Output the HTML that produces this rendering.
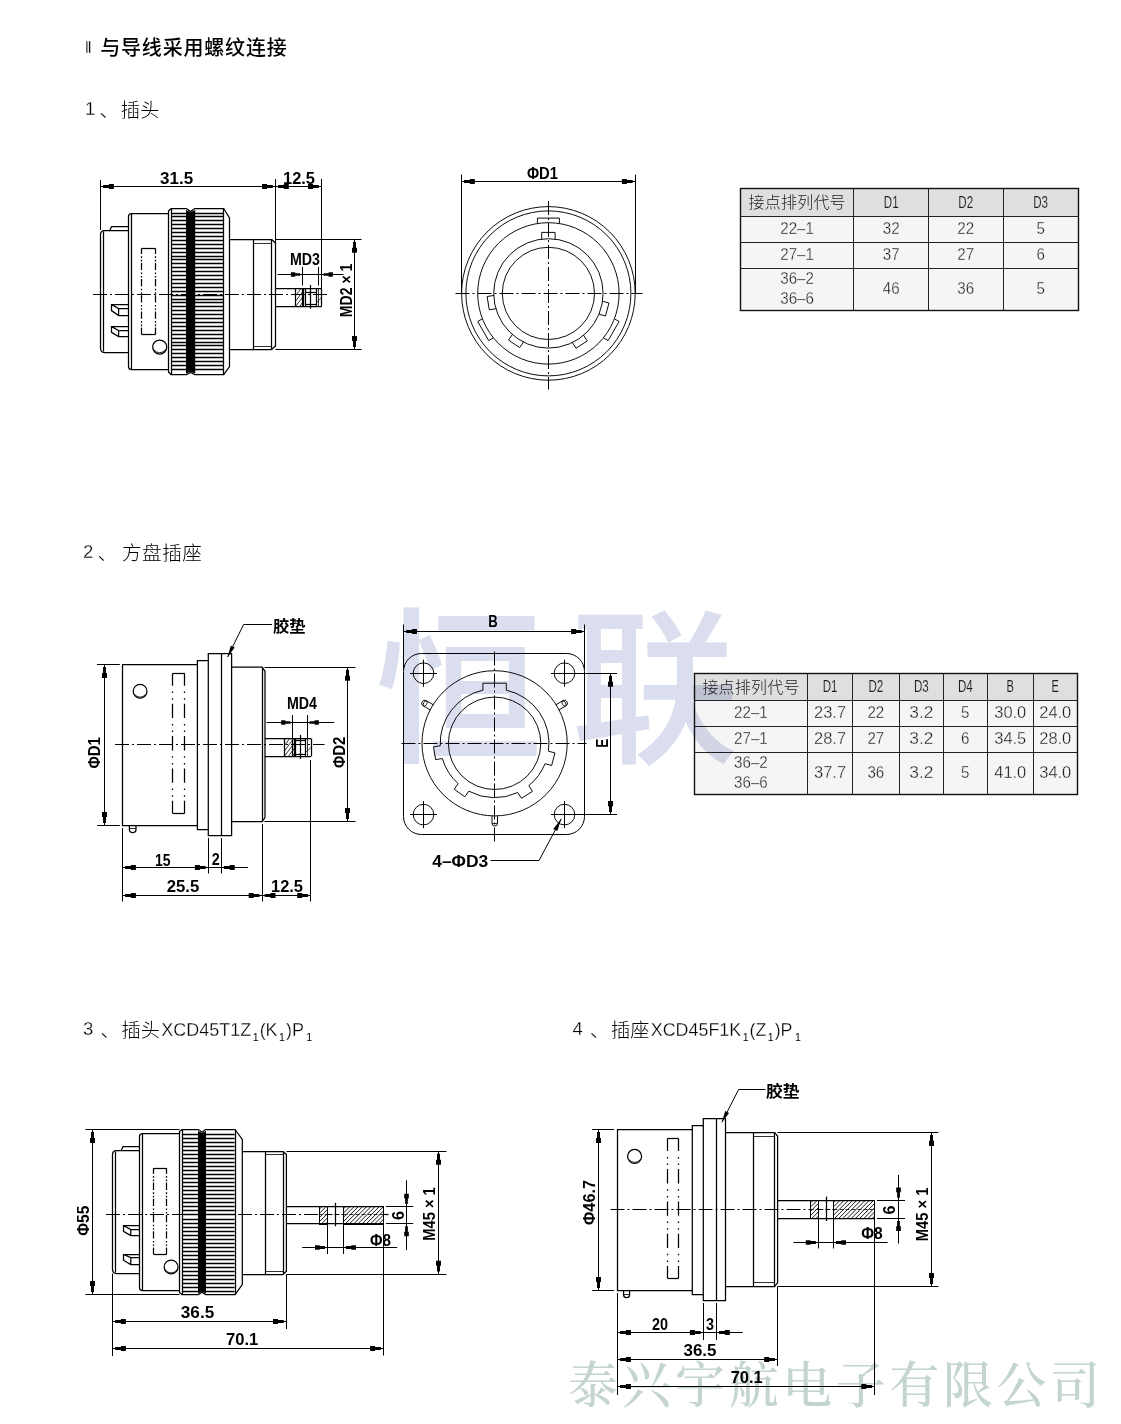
<!DOCTYPE html>
<html lang="zh"><head><meta charset="utf-8"><title>XCD</title>
<style>
html,body{margin:0;padding:0;background:#fff}
body{width:1121px;height:1424px;overflow:hidden;position:relative}
svg{position:absolute;left:0;top:0;display:block}
svg text.t{fill:#1c1c1c}
svg text.th{stroke:#dfdfdf;stroke-width:.15px}
svg text.tb{stroke:#f5f5f5;stroke-width:.3px}
svg text.thin{stroke:#fff;stroke-width:.35px}
svg text.thin2{stroke:#fff;stroke-width:.3px}
svg text{font-family:"Liberation Sans","Noto Sans CJK SC",sans-serif;fill:#000;stroke:none}
</style></head><body>
<svg width="1121" height="1424" viewBox="0 0 1121 1424" fill="none" stroke="#000" stroke-width="1">
<g>
<rect x="740.3" y="216.2" width="338" height="94.3" fill="#f5f5f5" stroke="none"/>
<rect x="740.3" y="188.4" width="338" height="27.8" fill="#dfdfdf" stroke="none"/>
<path d="M853.5 188.4L853.5 310.5" stroke-width="1" stroke="#222"/>
<path d="M928.5 188.4L928.5 310.5" stroke-width="1" stroke="#222"/>
<path d="M1003.5 188.4L1003.5 310.5" stroke-width="1" stroke="#222"/>
<path d="M740.3 216.5L1078.3 216.5" stroke-width="1" stroke="#222"/>
<path d="M740.3 242.5L1078.3 242.5" stroke-width="1" stroke="#222"/>
<path d="M740.3 268.5L1078.3 268.5" stroke-width="1" stroke="#222"/>
<rect x="740.5" y="188.5" width="338" height="122" stroke="#111" stroke-width="1.4"/>
<g font-weight="300" style="fill:#262626">
<text class="t" x="797.1" y="208.1" font-size="16" text-anchor="middle" textLength="97" lengthAdjust="spacing" font-weight="300">接点排列代号</text>
<text class="t th" x="891.2" y="207.5" font-size="16" text-anchor="middle" textLength="14.8" lengthAdjust="spacingAndGlyphs" font-weight="400">D1</text>
<text class="t th" x="965.75" y="207.5" font-size="16" text-anchor="middle" textLength="14.8" lengthAdjust="spacingAndGlyphs" font-weight="400">D2</text>
<text class="t th" x="1040.65" y="207.5" font-size="16" text-anchor="middle" textLength="14.8" lengthAdjust="spacingAndGlyphs" font-weight="400">D3</text>
<text class="t tb" x="797.1" y="234.1" font-size="16" text-anchor="middle" textLength="33.6" lengthAdjust="spacingAndGlyphs" font-weight="400">22–1</text>
<text class="t tb" x="891.2" y="234.1" font-size="16" text-anchor="middle" textLength="16.8" lengthAdjust="spacingAndGlyphs" font-weight="400">32</text>
<text class="t tb" x="965.75" y="234.1" font-size="16" text-anchor="middle" textLength="16.8" lengthAdjust="spacingAndGlyphs" font-weight="400">22</text>
<text class="t tb" x="1040.65" y="234.1" font-size="16" text-anchor="middle" textLength="8.4" lengthAdjust="spacingAndGlyphs" font-weight="400">5</text>
<text class="t tb" x="797.1" y="260.15" font-size="16" text-anchor="middle" textLength="33.6" lengthAdjust="spacingAndGlyphs" font-weight="400">27–1</text>
<text class="t tb" x="891.2" y="260.15" font-size="16" text-anchor="middle" textLength="16.8" lengthAdjust="spacingAndGlyphs" font-weight="400">37</text>
<text class="t tb" x="965.75" y="260.15" font-size="16" text-anchor="middle" textLength="16.8" lengthAdjust="spacingAndGlyphs" font-weight="400">27</text>
<text class="t tb" x="1040.65" y="260.15" font-size="16" text-anchor="middle" textLength="8.4" lengthAdjust="spacingAndGlyphs" font-weight="400">6</text>
<text class="t tb" x="797.1" y="284.2" font-size="16" text-anchor="middle" textLength="33.6" lengthAdjust="spacingAndGlyphs" font-weight="400">36–2</text>
<text class="t tb" x="797.1" y="304.2" font-size="16" text-anchor="middle" textLength="33.6" lengthAdjust="spacingAndGlyphs" font-weight="400">36–6</text>
<text class="t tb" x="891.2" y="294.2" font-size="16" text-anchor="middle" textLength="16.8" lengthAdjust="spacingAndGlyphs" font-weight="400">46</text>
<text class="t tb" x="965.75" y="294.2" font-size="16" text-anchor="middle" textLength="16.8" lengthAdjust="spacingAndGlyphs" font-weight="400">36</text>
<text class="t tb" x="1040.65" y="294.2" font-size="16" text-anchor="middle" textLength="8.4" lengthAdjust="spacingAndGlyphs" font-weight="400">5</text>
</g></g>
<g>
<rect x="694.2" y="700.2" width="383" height="94.2" fill="#f5f5f5" stroke="none"/>
<rect x="694.2" y="673.6" width="383" height="26.6" fill="#dfdfdf" stroke="none"/>
<path d="M807.5 673.6L807.5 794.4" stroke-width="1" stroke="#222"/>
<path d="M852.5 673.6L852.5 794.4" stroke-width="1" stroke="#222"/>
<path d="M899.5 673.6L899.5 794.4" stroke-width="1" stroke="#222"/>
<path d="M943.5 673.6L943.5 794.4" stroke-width="1" stroke="#222"/>
<path d="M987.5 673.6L987.5 794.4" stroke-width="1" stroke="#222"/>
<path d="M1033.5 673.6L1033.5 794.4" stroke-width="1" stroke="#222"/>
<path d="M694.2 700.5L1077.2 700.5" stroke-width="1" stroke="#222"/>
<path d="M694.2 726.5L1077.2 726.5" stroke-width="1" stroke="#222"/>
<path d="M694.2 752.5L1077.2 752.5" stroke-width="1" stroke="#222"/>
<rect x="694.5" y="673.5" width="383" height="121" stroke="#111" stroke-width="1.4"/>
<g font-weight="300" style="fill:#262626">
<text class="t" x="750.9" y="692.7" font-size="16" text-anchor="middle" textLength="97" lengthAdjust="spacing" font-weight="300">接点排列代号</text>
<text class="t th" x="830.05" y="692.1" font-size="16" text-anchor="middle" textLength="14.8" lengthAdjust="spacingAndGlyphs" font-weight="400">D1</text>
<text class="t th" x="875.85" y="692.1" font-size="16" text-anchor="middle" textLength="14.8" lengthAdjust="spacingAndGlyphs" font-weight="400">D2</text>
<text class="t th" x="921.3" y="692.1" font-size="16" text-anchor="middle" textLength="14.8" lengthAdjust="spacingAndGlyphs" font-weight="400">D3</text>
<text class="t th" x="965.3" y="692.1" font-size="16" text-anchor="middle" textLength="14.8" lengthAdjust="spacingAndGlyphs" font-weight="400">D4</text>
<text class="t th" x="1010.25" y="692.1" font-size="16" text-anchor="middle" textLength="7.4" lengthAdjust="spacingAndGlyphs" font-weight="400">B</text>
<text class="t th" x="1055.25" y="692.1" font-size="16" text-anchor="middle" textLength="7.4" lengthAdjust="spacingAndGlyphs" font-weight="400">E</text>
<text class="t tb" x="750.9" y="718.05" font-size="16" text-anchor="middle" textLength="33.6" lengthAdjust="spacingAndGlyphs" font-weight="400">22–1</text>
<text class="t tb" x="830.05" y="718.05" font-size="16" text-anchor="middle" textLength="32" lengthAdjust="spacingAndGlyphs" font-weight="400">23.7</text>
<text class="t tb" x="875.85" y="718.05" font-size="16" text-anchor="middle" textLength="16.8" lengthAdjust="spacingAndGlyphs" font-weight="400">22</text>
<text class="t tb" x="921.3" y="718.05" font-size="16" text-anchor="middle" textLength="24" lengthAdjust="spacingAndGlyphs" font-weight="400">3.2</text>
<text class="t tb" x="965.3" y="718.05" font-size="16" text-anchor="middle" textLength="8.4" lengthAdjust="spacingAndGlyphs" font-weight="400">5</text>
<text class="t tb" x="1010.25" y="718.05" font-size="16" text-anchor="middle" textLength="32" lengthAdjust="spacingAndGlyphs" font-weight="400">30.0</text>
<text class="t tb" x="1055.25" y="718.05" font-size="16" text-anchor="middle" textLength="32" lengthAdjust="spacingAndGlyphs" font-weight="400">24.0</text>
<text class="t tb" x="750.9" y="743.95" font-size="16" text-anchor="middle" textLength="33.6" lengthAdjust="spacingAndGlyphs" font-weight="400">27–1</text>
<text class="t tb" x="830.05" y="743.95" font-size="16" text-anchor="middle" textLength="32" lengthAdjust="spacingAndGlyphs" font-weight="400">28.7</text>
<text class="t tb" x="875.85" y="743.95" font-size="16" text-anchor="middle" textLength="16.8" lengthAdjust="spacingAndGlyphs" font-weight="400">27</text>
<text class="t tb" x="921.3" y="743.95" font-size="16" text-anchor="middle" textLength="24" lengthAdjust="spacingAndGlyphs" font-weight="400">3.2</text>
<text class="t tb" x="965.3" y="743.95" font-size="16" text-anchor="middle" textLength="8.4" lengthAdjust="spacingAndGlyphs" font-weight="400">6</text>
<text class="t tb" x="1010.25" y="743.95" font-size="16" text-anchor="middle" textLength="32" lengthAdjust="spacingAndGlyphs" font-weight="400">34.5</text>
<text class="t tb" x="1055.25" y="743.95" font-size="16" text-anchor="middle" textLength="32" lengthAdjust="spacingAndGlyphs" font-weight="400">28.0</text>
<text class="t tb" x="750.9" y="768" font-size="16" text-anchor="middle" textLength="33.6" lengthAdjust="spacingAndGlyphs" font-weight="400">36–2</text>
<text class="t tb" x="750.9" y="788" font-size="16" text-anchor="middle" textLength="33.6" lengthAdjust="spacingAndGlyphs" font-weight="400">36–6</text>
<text class="t tb" x="830.05" y="778" font-size="16" text-anchor="middle" textLength="32" lengthAdjust="spacingAndGlyphs" font-weight="400">37.7</text>
<text class="t tb" x="875.85" y="778" font-size="16" text-anchor="middle" textLength="16.8" lengthAdjust="spacingAndGlyphs" font-weight="400">36</text>
<text class="t tb" x="921.3" y="778" font-size="16" text-anchor="middle" textLength="24" lengthAdjust="spacingAndGlyphs" font-weight="400">3.2</text>
<text class="t tb" x="965.3" y="778" font-size="16" text-anchor="middle" textLength="8.4" lengthAdjust="spacingAndGlyphs" font-weight="400">5</text>
<text class="t tb" x="1010.25" y="778" font-size="16" text-anchor="middle" textLength="32" lengthAdjust="spacingAndGlyphs" font-weight="400">41.0</text>
<text class="t tb" x="1055.25" y="778" font-size="16" text-anchor="middle" textLength="32" lengthAdjust="spacingAndGlyphs" font-weight="400">34.0</text>
</g></g>
<g fill="#000">
<text x="84.6" y="53" font-size="17.2" font-weight="300" textLength="7.4" lengthAdjust="spacing" lengthAdjust="spacingAndGlyphs" class="thin">II</text>
<text x="100.2" y="54.6" font-size="20" font-weight="500" textLength="186.5" lengthAdjust="spacing">与导线采用螺纹连接</text>
<text x="85" y="115.4" font-size="18.5" font-weight="300" class="thin2">1</text>
<text x="99.5" y="116.5" font-size="19" font-weight="300">、</text>
<text x="120.8" y="116.5" font-size="19.2" font-weight="300" textLength="38.6" lengthAdjust="spacing">插头</text>
<text x="83" y="558.4" font-size="18.5" font-weight="300" class="thin2">2</text>
<text x="97.8" y="559.5" font-size="19" font-weight="300">、</text>
<text x="122" y="559.5" font-size="19.6" font-weight="300" textLength="79.8" lengthAdjust="spacing">方盘插座</text>
<text x="83" y="1035.4" font-size="18.5" font-weight="300" class="thin2">3</text>
<text x="100.5" y="1036.5" font-size="19" font-weight="300">、</text>
<text x="121.5" y="1036.8" font-size="19.2" font-weight="300" textLength="38.5" lengthAdjust="spacing">插头</text>
<text class="thin2" x="161.3" y="1035.6" font-size="18.6" font-weight="400" textLength="151" lengthAdjust="spacingAndGlyphs">XCD45T1Z<tspan font-size="11" dy="5.2" dx="1.5" style="stroke:none">1</tspan><tspan dy="-5.2" dx="1">(K</tspan><tspan font-size="11" dy="5.2" dx="1.5" style="stroke:none">1</tspan><tspan dy="-5.2" dx="1">)P</tspan><tspan font-size="11" dy="5.2" dx="2.5" style="stroke:none">1</tspan></text>
<text x="572.5" y="1035.4" font-size="18.5" font-weight="300" class="thin2">4</text>
<text x="590" y="1036.5" font-size="19" font-weight="300">、</text>
<text x="611" y="1036.8" font-size="19.2" font-weight="300" textLength="38.5" lengthAdjust="spacing">插座</text>
<text class="thin2" x="650.8" y="1035.6" font-size="18.6" font-weight="400" textLength="150" lengthAdjust="spacingAndGlyphs">XCD45F1K<tspan font-size="11" dy="5.2" dx="1.5" style="stroke:none">1</tspan><tspan dy="-5.2" dx="1">(Z</tspan><tspan font-size="11" dy="5.2" dx="1.5" style="stroke:none">1</tspan><tspan dy="-5.2" dx="1">)P</tspan><tspan font-size="11" dy="5.2" dx="2.5" style="stroke:none">1</tspan></text>
</g>
<text x="375" y="750" font-size="168" font-weight="500" style="mix-blend-mode:multiply;fill:#dbdeee;font-family:'Liberation Sans','Noto Sans CJK SC',sans-serif" textLength="364" lengthAdjust="spacing">恒联</text>
<text x="568" y="1403" font-size="50" font-weight="500" style="mix-blend-mode:multiply;fill:#c4d4d1;font-family:'Liberation Serif','Noto Serif CJK SC',serif" textLength="532" lengthAdjust="spacing">泰兴宇航电子有限公司</text>
<g id="d1">
<path d="M128.5 230.5H104.5Q100.5 230.5 100.5 234.5V348Q100.5 352.5 104.5 352.5H128.5" stroke-width="1.25" fill="none"/>
<path d="M103.5 231.5L103.5 351.5" stroke-width="1.25"/>
<path d="M109.8 230.5L111.6 226.5H128.5" stroke-width="1.25" fill="none"/>
<path d="M169 213.5H131.5Q128.5 213.5 128.5 216.5V366.5Q128.5 369.5 131.5 369.5H169" stroke-width="1.25" fill="none"/>
<path d="M131.5 214L131.5 369" stroke-width="1.25"/>
<path d="M168.5 211L171 208.5H186.4L190.5 211.6L194.8 208.5H223.7L229.5 218V366.5L223.7 374.5H194.8L190.6 372.4L186.4 374.5H171L168.5 372Z" stroke-width="1.25" fill="none"/>
<path d="M171.5 208.5L171.5 374.5" stroke-width="1.25"/>
<path d="M223.5 208.5L223.5 374.5" stroke-width="1.25"/>
<polygon points="186,210 190.5,212.2 195.2,210 195.2,373.5 190.6,371.8 186,373.5" fill="#000" stroke="none"/>
<g stroke-width="1.3">
<path d="M172 213.5H186M195 213.5H223.4"/>
<path d="M172 216.5H186M195 216.5H223.4"/>
<path d="M172 220.5H186M195 220.5H223.4"/>
<path d="M172 224.5H186M195 224.5H223.4"/>
<path d="M172 228.5H186M195 228.5H223.4"/>
<path d="M172 232.5H186M195 232.5H223.4"/>
<path d="M172 236.5H186M195 236.5H223.4"/>
<path d="M172 240.5H186M195 240.5H223.4"/>
<path d="M172 244.5H186M195 244.5H223.4"/>
<path d="M172 248.5H186M195 248.5H223.4"/>
<path d="M172 252.5H186M195 252.5H223.4"/>
<path d="M172 256.5H186M195 256.5H223.4"/>
<path d="M172 259.5H186M195 259.5H223.4"/>
<path d="M172 263.5H186M195 263.5H223.4"/>
<path d="M172 267.5H186M195 267.5H223.4"/>
<path d="M172 271.5H186M195 271.5H223.4"/>
<path d="M172 275.5H186M195 275.5H223.4"/>
<path d="M172 279.5H186M195 279.5H223.4"/>
<path d="M172 283.5H186M195 283.5H223.4"/>
<path d="M172 287.5H186M195 287.5H223.4"/>
<path d="M172 291.5H186M195 291.5H223.4"/>
<path d="M172 295.5H186M195 295.5H223.4"/>
<path d="M172 299.5H186M195 299.5H223.4"/>
<path d="M172 302.5H186M195 302.5H223.4"/>
<path d="M172 306.5H186M195 306.5H223.4"/>
<path d="M172 310.5H186M195 310.5H223.4"/>
<path d="M172 314.5H186M195 314.5H223.4"/>
<path d="M172 318.5H186M195 318.5H223.4"/>
<path d="M172 322.5H186M195 322.5H223.4"/>
<path d="M172 326.5H186M195 326.5H223.4"/>
<path d="M172 330.5H186M195 330.5H223.4"/>
<path d="M172 334.5H186M195 334.5H223.4"/>
<path d="M172 338.5H186M195 338.5H223.4"/>
<path d="M172 342.5H186M195 342.5H223.4"/>
<path d="M172 345.5H186M195 345.5H223.4"/>
<path d="M172 349.5H186M195 349.5H223.4"/>
<path d="M172 353.5H186M195 353.5H223.4"/>
<path d="M172 357.5H186M195 357.5H223.4"/>
<path d="M172 361.5H186M195 361.5H223.4"/>
<path d="M172 365.5H186M195 365.5H223.4"/>
<path d="M172 369.5H186M195 369.5H223.4"/>
</g>
<path d="M229.5 239.5L271.6 239.5" stroke-width="1.25"/>
<path d="M229.5 349.5L271.6 349.5" stroke-width="1.25"/>
<path d="M253.5 239.3L253.5 349.5" stroke-width="1.25"/>
<path d="M271.5 239.3L271.5 349.5" stroke-width="1.25"/>
<path d="M271.6 239.5L275.5 243V346L271.6 349.5" stroke-width="1.25" fill="none"/>
<path d="M253.6 243.5L271.6 243.5" stroke-width="0.8"/>
<path d="M253.6 346.5L271.6 346.5" stroke-width="0.8"/>
<path d="M93 294.5L327 294.5" stroke-width="1" stroke-dasharray="14 3 2 3"/>
<path d="M275.5 288.5L321.8 288.5" stroke-width="1.25"/>
<path d="M275.5 306.5L321.8 306.5" stroke-width="1.25"/>
<path d="M321.5 288.2L321.5 306.2" stroke-width="1.25"/>
<path d="M295.5 288.2L295.5 306.2" stroke-width="1.25"/>
<path d="M302.5 288.2L302.5 306.2" stroke-width="1.25"/>
<path d="M303.5 288.2L303.5 306.2" stroke-width="1.25"/>
<path d="M305.5 288.2L305.5 306.2" stroke-width="1.25"/>
<g stroke-width="0.8">
<path d="M295.8 295.53L301.3 288.2" stroke-width="0.8"/>
<path d="M295.8 300.87L303.7 290.33" stroke-width="0.8"/>
<path d="M295.8 306.2L303.7 295.67" stroke-width="0.8"/>
<path d="M299.8 306.2L303.7 301" stroke-width="0.8"/>
</g>
<path d="M305.3 292.5L316.9 292.5" stroke-width="1.25"/>
<path d="M305.3 304.5L316.9 304.5" stroke-width="1.25"/>
<path d="M316.5 288.2L316.5 306.2" stroke-width="1.25"/>
<path d="M318.5 288.2L318.5 306.2" stroke-width="0.8"/>
<path d="M316.9 302.2L321.8 297.2" stroke-width="0.7"/>
<path d="M310.5 285L310.5 308.8" stroke-width="1.25"/>
<path d="M141.4 248.5L155.6 248.5" stroke-width="1.25"/>
<path d="M141.4 334.5L155.6 334.5" stroke-width="1.25"/>
<path d="M141.5 248.5L141.5 334.3" stroke-width="1.25" stroke-dasharray="7.3 2.4 1.6 1.9 1.6 1.4" stroke-dashoffset="1.9"/>
<path d="M155.5 248.5L155.5 334.3" stroke-width="1.25" stroke-dasharray="7.3 2.4 1.6 1.9 1.6 1.4" stroke-dashoffset="1.9"/>
<path d="M128.5 304.5 H111.5 V310.6 L118.6 315.5 H128.5 M111.5 304.5 L118.6 308.5 H128.5 M118.6 308.5 V315.5" stroke-width="1.25" fill="none"/>
<path d="M128.5 326.5 H111.5 V332.4 L118.6 336.5 H128.5 M111.5 326.5 L118.6 330.5 H128.5 M118.6 330.5 V336.5" stroke-width="1.25" fill="none"/>
<circle cx="159.7" cy="347" r="7" stroke-width="1.25"/>
<path d="M153.3 349.5Q159.7 356 166.1 349.5" stroke-width="0.9" fill="none"/>
<path d="M100.5 180L100.5 230" stroke-width="1"/>
<path d="M275.5 179L275.5 243" stroke-width="1"/>
<path d="M321.5 179L321.5 288" stroke-width="1"/>
<path d="M100.5 186.5L321.4 186.5" stroke-width="1"/>
<polygon points="100.5,186 103.1,186 103.1,185 108.9,185 108.9,184 113.9,184 113.9,189 108.9,189 108.9,188 103.1,188 103.1,187 100.5,187" fill="#000" stroke="none"/>
<polygon points="275.4,187 272.8,187 272.8,188 267,188 267,189 262,189 262,184 267,184 267,185 272.8,185 272.8,186 275.4,186" fill="#000" stroke="none"/>
<polygon points="275.4,186 278,186 278,185 283.8,185 283.8,184 288.8,184 288.8,189 283.8,189 283.8,188 278,188 278,187 275.4,187" fill="#000" stroke="none"/>
<polygon points="321.4,187 318.8,187 318.8,188 313,188 313,189 308,189 308,184 313,184 313,185 318.8,185 318.8,186 321.4,186" fill="#000" stroke="none"/>
<text class="d" x="176.6" y="183.5" font-size="16" font-weight="bold" text-anchor="middle" textLength="33" lengthAdjust="spacingAndGlyphs">31.5</text>
<text class="d" x="299" y="183.5" font-size="16" font-weight="bold" text-anchor="middle" textLength="32" lengthAdjust="spacingAndGlyphs">12.5</text>
<path d="M277.5 274.5L343.5 274.5" stroke-width="1"/>
<path d="M302.5 267L302.5 285.5" stroke-width="1"/>
<path d="M318.5 267L318.5 285.5" stroke-width="1"/>
<polygon points="302.4,275 300.17,275 300.17,275.82 295.19,275.82 295.19,276.7 290.9,276.7 290.9,272.3 295.19,272.3 295.19,273.18 300.17,273.18 300.17,274 302.4,274" fill="#000" stroke="none"/>
<polygon points="321.4,274 323.63,274 323.63,273.18 328.61,273.18 328.61,272.3 332.9,272.3 332.9,276.7 328.61,276.7 328.61,275.82 323.63,275.82 323.63,275 321.4,275" fill="#000" stroke="none"/>
<text class="d" x="305" y="265" font-size="16" font-weight="bold" text-anchor="middle" textLength="30" lengthAdjust="spacingAndGlyphs">MD3</text>
<path d="M275.5 239.5L361.5 239.5" stroke-width="1"/>
<path d="M275.5 349.5L361.5 349.5" stroke-width="1"/>
<path d="M354.5 239.3L354.5 349.5" stroke-width="1"/>
<polygon points="355,239.3 355,241.92 356,241.92 356,247.76 357,247.76 357,252.8 352,252.8 352,247.76 353,247.76 353,241.92 354,241.92 354,239.3" fill="#000" stroke="none"/>
<polygon points="354,349.5 354,346.88 353,346.88 353,341.04 352,341.04 352,336 357,336 357,341.04 356,341.04 356,346.88 355,346.88 355,349.5" fill="#000" stroke="none"/>
<text class="d" x="351.8" y="290.4" font-size="16" font-weight="bold" text-anchor="middle" textLength="53.5" lengthAdjust="spacingAndGlyphs" transform="rotate(-90 351.8 290.4)">MD2 × 1</text>
</g>
<g id="d1b">
<circle cx="548.4" cy="293.4" r="86.8" stroke-width="0.95"/>
<circle cx="548.4" cy="293.4" r="82.5" stroke-width="0.95"/>
<circle cx="548.4" cy="293.4" r="70.7" stroke-width="0.95"/>
<circle cx="548.4" cy="293.4" r="54.7" stroke-width="0.95"/>
<circle cx="548.4" cy="293.4" r="46.1" stroke-width="0.95"/>
<path d="M537.4 223.2L537.4 218.1L559.4 218.1L559.4 223.2" stroke-width="0.95" fill="none"/>
<path d="M614.69 318.97L619.11 321.52L608.11 340.58L603.69 338.03" stroke-width="0.95" fill="none"/>
<path d="M493.11 338.03L488.69 340.58L477.69 321.52L482.11 318.97" stroke-width="0.95" fill="none"/>
<path d="M541.7 239.4L541.7 232.4L555.1 232.4L555.1 239.4" stroke-width="0.95" fill="none"/>
<path d="M602.25 301.19L609.01 303.03L605.47 315.96L598.72 314.11" stroke-width="0.95" fill="none"/>
<path d="M583.43 335.04L587.24 340.91L576 348.21L572.19 342.34" stroke-width="0.95" fill="none"/>
<path d="M523.59 341.83L519.65 347.62L508.57 340.09L512.51 334.3" stroke-width="0.95" fill="none"/>
<path d="M496.17 308.65L489.26 309.77L487.11 296.54L494.02 295.42" stroke-width="0.95" fill="none"/>
<path d="M455.5 293.5L642.5 293.5" stroke-width="1" stroke-dasharray="14 3 2 3"/>
<path d="M548.5 201L548.5 389.5" stroke-width="1" stroke-dasharray="14 3 2 3"/>
<path d="M461.5 174.5L461.5 293" stroke-width="1"/>
<path d="M635.5 174.5L635.5 293" stroke-width="1"/>
<path d="M461.4 181.5L635.3 181.5" stroke-width="1"/>
<polygon points="461.4,181 464,181 464,180 469.8,180 469.8,179 474.8,179 474.8,184 469.8,184 469.8,183 464,183 464,182 461.4,182" fill="#000" stroke="none"/>
<polygon points="635.3,182 632.7,182 632.7,183 626.9,183 626.9,184 621.9,184 621.9,179 626.9,179 626.9,180 632.7,180 632.7,181 635.3,181" fill="#000" stroke="none"/>
<text class="d" x="542.5" y="178.5" font-size="16" font-weight="bold" text-anchor="middle" textLength="31" lengthAdjust="spacingAndGlyphs">ΦD1</text>
</g>
<g id="d2">
<path d="M197.4 664.5H122.5V825.5H197.4" stroke-width="1.25" fill="none"/>
<path d="M208.3 660.5H197.4V829.5H208.3" stroke-width="1.25" fill="none"/>
<path d="M208.3 653.5H231.6V835.5H208.3Z" stroke-width="1.25" fill="none"/>
<path d="M221.5 653.5L221.5 835.5" stroke-width="1.25"/>
<path d="M231.6 667.2H262.1L265 671.3V817.5L262.1 821.5H231.6" stroke-width="1.25" fill="none"/>
<path d="M262.5 667.2L262.5 821.5" stroke-width="1.25"/>
<path d="M115 744.5L324.5 744.5" stroke-width="1" stroke-dasharray="14 3 2 3"/>
<path d="M265 738.5L311 738.5" stroke-width="1.25"/>
<path d="M265 756.5L311 756.5" stroke-width="1.25"/>
<path d="M311.5 738.4L311.5 756.4" stroke-width="1.25"/>
<path d="M284.5 738.4L284.5 756.4" stroke-width="1.25"/>
<path d="M292.5 738.4L292.5 756.4" stroke-width="1.25"/>
<path d="M294.5 738.4L294.5 756.4" stroke-width="1.25"/>
<path d="M295.5 738.4L295.5 756.4" stroke-width="1.25"/>
<g stroke-width="0.8">
<path d="M284.3 745.73L289.8 738.4" stroke-width="0.8"/>
<path d="M284.3 751.07L293.8 738.4" stroke-width="0.8"/>
<path d="M284.3 756.4L294.3 743.07" stroke-width="0.8"/>
<path d="M288.3 756.4L294.3 748.4" stroke-width="0.8"/>
<path d="M292.3 756.4L294.3 753.73" stroke-width="0.8"/>
</g>
<path d="M295.8 740.5L305.7 740.5" stroke-width="1.25"/>
<path d="M295.8 754.5L305.7 754.5" stroke-width="1.25"/>
<path d="M305.5 738.4L305.5 756.4" stroke-width="1.25"/>
<path d="M307.5 738.4L307.5 756.4" stroke-width="0.8"/>
<path d="M305.7 752.4L311 747.4" stroke-width="0.7"/>
<path d="M300.5 735L300.5 759" stroke-width="1.25"/>
<circle cx="140.1" cy="691.3" r="6.9" stroke-width="1.25"/>
<path d="M134 694Q140.1 700.5 146.2 694" stroke-width="0.9" fill="none"/>
<path d="M172.5 673.5L184.7 673.5" stroke-width="1.25"/>
<path d="M172.5 813.5L184.7 813.5" stroke-width="1.25"/>
<path d="M172.5 673.4L172.5 813.3" stroke-width="1.25" stroke-dasharray="14.3 5.8 1.5 5.2 1.5 4" stroke-dashoffset="1.9"/>
<path d="M184.5 673.4L184.5 813.3" stroke-width="1.25" stroke-dasharray="14.3 5.8 1.5 5.2 1.5 4" stroke-dashoffset="1.9"/>
<path d="M129.4 825.5V829.5Q129.4 832.6 132.7 832.6Q136 832.6 136 829.5V825.5" stroke-width="1.25" fill="none"/>
<path d="M129.4 828.5L136 828.5" stroke-width="0.8"/>
<path d="M272 624.5H243.6L227.6 657" stroke-width="1" fill="none"/>
<polygon points="227.4,657.4 230.73,645.66 234.67,647.61" fill="#000" stroke="none"/>
<text x="273" y="632.2" font-size="16" font-weight="bold" textLength="32.5" lengthAdjust="spacingAndGlyphs">胶垫</text>
<path d="M97 664.5L119.8 664.5" stroke-width="1"/>
<path d="M97 825.5L119.8 825.5" stroke-width="1"/>
<path d="M104.5 664.5L104.5 825.5" stroke-width="1"/>
<polygon points="105,664.5 105,667.12 106,667.12 106,672.96 107,672.96 107,678 102,678 102,672.96 103,672.96 103,667.12 104,667.12 104,664.5" fill="#000" stroke="none"/>
<polygon points="104,825.5 104,822.88 103,822.88 103,817.04 102,817.04 102,812 107,812 107,817.04 106,817.04 106,822.88 105,822.88 105,825.5" fill="#000" stroke="none"/>
<text class="d" x="100.2" y="752.8" font-size="16" font-weight="bold" text-anchor="middle" textLength="31.5" lengthAdjust="spacingAndGlyphs" transform="rotate(-90 100.2 752.8)">ΦD1</text>
<path d="M264.5 667.5L355.5 667.5" stroke-width="1"/>
<path d="M264.5 821.5L355.5 821.5" stroke-width="1"/>
<path d="M347.5 667.2L347.5 821.5" stroke-width="1"/>
<polygon points="348,667.2 348,669.82 349,669.82 349,675.66 350,675.66 350,680.7 345,680.7 345,675.66 346,675.66 346,669.82 347,669.82 347,667.2" fill="#000" stroke="none"/>
<polygon points="347,821.5 347,818.88 346,818.88 346,813.04 345,813.04 345,808 350,808 350,813.04 349,813.04 349,818.88 348,818.88 348,821.5" fill="#000" stroke="none"/>
<text class="d" x="344.6" y="752.3" font-size="16" font-weight="bold" text-anchor="middle" textLength="31.5" lengthAdjust="spacingAndGlyphs" transform="rotate(-90 344.6 752.3)">ΦD2</text>
<path d="M266.5 722.5L334.3 722.5" stroke-width="1"/>
<path d="M292.5 715L292.5 738.4" stroke-width="1"/>
<path d="M307.5 715L307.5 738.4" stroke-width="1"/>
<polygon points="292.6,723 290.37,723 290.37,723.82 285.39,723.82 285.39,724.7 281.1,724.7 281.1,720.3 285.39,720.3 285.39,721.18 290.37,721.18 290.37,722 292.6,722" fill="#000" stroke="none"/>
<polygon points="307.4,722 309.63,722 309.63,721.18 314.61,721.18 314.61,720.3 318.9,720.3 318.9,724.7 314.61,724.7 314.61,723.82 309.63,723.82 309.63,723 307.4,723" fill="#000" stroke="none"/>
<text class="d" x="302" y="709.3" font-size="16" font-weight="bold" text-anchor="middle" textLength="30" lengthAdjust="spacingAndGlyphs">MD4</text>
<path d="M122.5 828L122.5 901.5" stroke-width="1"/>
<path d="M208.5 838L208.5 873.5" stroke-width="1"/>
<path d="M221.5 838L221.5 873.5" stroke-width="1"/>
<path d="M262.5 824L262.5 901.5" stroke-width="1"/>
<path d="M310.5 760L310.5 901.5" stroke-width="1"/>
<path d="M122.5 867.5L248 867.5" stroke-width="1"/>
<polygon points="122.5,867 125.1,867 125.1,866 130.9,866 130.9,865 135.9,865 135.9,870 130.9,870 130.9,869 125.1,869 125.1,868 122.5,868" fill="#000" stroke="none"/>
<polygon points="208.3,868 205.7,868 205.7,869 199.9,869 199.9,870 194.9,870 194.9,865 199.9,865 199.9,866 205.7,866 205.7,867 208.3,867" fill="#000" stroke="none"/>
<polygon points="221.3,867 223.9,867 223.9,866 229.7,866 229.7,865 234.7,865 234.7,870 229.7,870 229.7,869 223.9,869 223.9,868 221.3,868" fill="#000" stroke="none"/>
<text class="d" x="162.8" y="865.5" font-size="16" font-weight="bold" text-anchor="middle" textLength="15.5" lengthAdjust="spacingAndGlyphs">15</text>
<text class="d" x="215.8" y="865" font-size="16" font-weight="bold" text-anchor="middle" textLength="8" lengthAdjust="spacingAndGlyphs">2</text>
<path d="M122.5 895.5L310.6 895.5" stroke-width="1"/>
<polygon points="122.5,895 125.1,895 125.1,894 130.9,894 130.9,893 135.9,893 135.9,898 130.9,898 130.9,897 125.1,897 125.1,896 122.5,896" fill="#000" stroke="none"/>
<polygon points="262.1,896 259.5,896 259.5,897 253.7,897 253.7,898 248.7,898 248.7,893 253.7,893 253.7,894 259.5,894 259.5,895 262.1,895" fill="#000" stroke="none"/>
<polygon points="262.1,895 264.7,895 264.7,894 270.5,894 270.5,893 275.5,893 275.5,898 270.5,898 270.5,897 264.7,897 264.7,896 262.1,896" fill="#000" stroke="none"/>
<polygon points="310.6,896 308,896 308,897 302.2,897 302.2,898 297.2,898 297.2,893 302.2,893 302.2,894 308,894 308,895 310.6,895" fill="#000" stroke="none"/>
<text class="d" x="183" y="892" font-size="16" font-weight="bold" text-anchor="middle" textLength="32.5" lengthAdjust="spacingAndGlyphs">25.5</text>
<text class="d" x="287" y="892" font-size="16" font-weight="bold" text-anchor="middle" textLength="32" lengthAdjust="spacingAndGlyphs">12.5</text>
</g>
<g id="d2b">
<rect x="403.5" y="653.5" width="181" height="181" rx="18" ry="18" stroke-width="1"/>
<circle cx="494.6" cy="743.3" r="72.6" stroke-width="0.95"/>
<circle cx="494.6" cy="743.3" r="46.2" stroke-width="0.95"/>
<path d="M548.43 751.19L555.03 752.98L551.62 765.53L545.02 763.73A54.4 54.4 0 0 1 528.81 785.6L532.44 791.4L521.43 798.3L517.79 792.51A54.4 54.4 0 0 1 468.78 791.18L464.83 796.77L454.21 789.28L458.16 783.69A54.4 54.4 0 0 1 442.38 758.53L435.62 759.65L433.5 746.83L440.25 745.71A54.4 54.4 0 0 1 482.9 690.17L482.9 683.23L506.3 683.23L506.3 690.17A54.4 54.4 0 0 1 548.43 751.19Z" stroke-width="0.95" fill="none"/>
<circle cx="423.5" cy="673.2" r="10.3" stroke-width="0.95"/>
<path d="M410 673.5L437 673.5" stroke-width="1"/>
<path d="M423.5 659.7L423.5 686.7" stroke-width="1"/>
<circle cx="564.5" cy="673.2" r="10.3" stroke-width="0.95"/>
<path d="M551 673.5L578 673.5" stroke-width="1"/>
<path d="M564.5 659.7L564.5 686.7" stroke-width="1"/>
<circle cx="423.5" cy="814.6" r="10.3" stroke-width="0.95"/>
<path d="M410 814.5L437 814.5" stroke-width="1"/>
<path d="M423.5 801.1L423.5 828.1" stroke-width="1"/>
<circle cx="564.5" cy="814.6" r="10.3" stroke-width="0.95"/>
<path d="M551 814.5L578 814.5" stroke-width="1"/>
<path d="M564.5 801.1L564.5 828.1" stroke-width="1"/>
<path d="M430.46 710.02L423.25 705.9A3 3 0 0 1 426.24 700.69L433.44 704.82" stroke-width="0.95" fill="none"/>
<ellipse cx="425.18" cy="703.54" rx="1.6" ry="3" stroke-width="0.8" transform="rotate(209.8 425.18 703.54)"/>
<path d="M555.76 704.82L562.96 700.69A3 3 0 0 1 565.95 705.9L558.74 710.02" stroke-width="0.95" fill="none"/>
<ellipse cx="564.02" cy="703.54" rx="1.6" ry="3" stroke-width="0.8" transform="rotate(330.2 564.02 703.54)"/>
<path d="M492 816V823.5Q492 826 494.7 826Q497.5 826 497.5 823.5V816" stroke-width="0.95" fill="none"/>
<path d="M492 823.5L497.5 823.5" stroke-width="0.8"/>
<path d="M401.5 743.5L586.5 743.5" stroke-width="1" stroke-dasharray="14 3 2 3"/>
<path d="M494.5 651.5L494.5 843" stroke-width="1" stroke-dasharray="14 3 2 3"/>
<path d="M403.5 624.5L403.5 669" stroke-width="1"/>
<path d="M584.5 624.5L584.5 669" stroke-width="1"/>
<path d="M403.5 631.5L584.5 631.5" stroke-width="1"/>
<polygon points="403.5,631 406.1,631 406.1,630 411.9,630 411.9,629 416.9,629 416.9,634 411.9,634 411.9,633 406.1,633 406.1,632 403.5,632" fill="#000" stroke="none"/>
<polygon points="584.5,632 581.9,632 581.9,633 576.1,633 576.1,634 571.1,634 571.1,629 576.1,629 576.1,630 581.9,630 581.9,631 584.5,631" fill="#000" stroke="none"/>
<text class="d" x="493" y="627.3" font-size="16" font-weight="bold" text-anchor="middle" textLength="9.5" lengthAdjust="spacingAndGlyphs">B</text>
<path d="M578 673.5L617 673.5" stroke-width="1"/>
<path d="M578 814.5L617 814.5" stroke-width="1"/>
<path d="M610.5 673.2L610.5 814.6" stroke-width="1"/>
<polygon points="611,673.2 611,675.82 612,675.82 612,681.66 613,681.66 613,686.7 608,686.7 608,681.66 609,681.66 609,675.82 610,675.82 610,673.2" fill="#000" stroke="none"/>
<polygon points="610,814.6 610,811.98 609,811.98 609,806.14 608,806.14 608,801.1 613,801.1 613,806.14 612,806.14 612,811.98 611,811.98 611,814.6" fill="#000" stroke="none"/>
<text class="d" x="608.4" y="743.2" font-size="16" font-weight="bold" text-anchor="middle" textLength="9" lengthAdjust="spacingAndGlyphs" transform="rotate(-90 608.4 743.2)">E</text>
<path d="M490.5 860.5H539L561.3 818.8" stroke-width="1" fill="none"/>
<polygon points="561.4,818.5 557.31,831.05 553.25,828.89" fill="#000" stroke="none"/>
<text x="432.2" y="867" font-size="16" font-weight="bold" textLength="56" lengthAdjust="spacingAndGlyphs">4–ΦD3</text>
</g>
<g id="d3">
<path d="M139.7 1150.5H116.5Q112.5 1150.5 112.5 1154.5V1269Q112.5 1273.5 116.5 1273.5H139.7" stroke-width="1.25" fill="none"/>
<path d="M115.5 1151.5L115.5 1272.5" stroke-width="1.25"/>
<path d="M121.2 1150.5L123 1146.5H139.7" stroke-width="1.25" fill="none"/>
<path d="M180 1133.5H142.5Q139.5 1133.5 139.5 1136.5V1287.5Q139.5 1290.5 142.5 1290.5H180" stroke-width="1.25" fill="none"/>
<path d="M142.5 1134L142.5 1290" stroke-width="1.25"/>
<path d="M179.5 1131.5L182 1129.5H198.4L202 1132.3L205.6 1129.5H235L242.3 1139.5V1284.5L235 1294.5H205.6L202 1292.3L198.4 1294.5H182L179.5 1292.5Z" stroke-width="1.25" fill="none"/>
<path d="M182.5 1129.5L182.5 1294.5" stroke-width="1.25"/>
<path d="M235.5 1129.5L235.5 1294.5" stroke-width="1.25"/>
<polygon points="198,1131 202,1133 206,1131 206,1293.5 202,1291.7 198,1293.5" fill="#000" stroke="none"/>
<g stroke-width="1.3">
<path d="M183 1134.5H198M206 1134.5H234.6"/>
<path d="M183 1138.5H198M206 1138.5H234.6"/>
<path d="M183 1142.5H198M206 1142.5H234.6"/>
<path d="M183 1146.5H198M206 1146.5H234.6"/>
<path d="M183 1150.5H198M206 1150.5H234.6"/>
<path d="M183 1154.5H198M206 1154.5H234.6"/>
<path d="M183 1158.5H198M206 1158.5H234.6"/>
<path d="M183 1162.5H198M206 1162.5H234.6"/>
<path d="M183 1166.5H198M206 1166.5H234.6"/>
<path d="M183 1170.5H198M206 1170.5H234.6"/>
<path d="M183 1174.5H198M206 1174.5H234.6"/>
<path d="M183 1178.5H198M206 1178.5H234.6"/>
<path d="M183 1182.5H198M206 1182.5H234.6"/>
<path d="M183 1186.5H198M206 1186.5H234.6"/>
<path d="M183 1190.5H198M206 1190.5H234.6"/>
<path d="M183 1194.5H198M206 1194.5H234.6"/>
<path d="M183 1198.5H198M206 1198.5H234.6"/>
<path d="M183 1202.5H198M206 1202.5H234.6"/>
<path d="M183 1206.5H198M206 1206.5H234.6"/>
<path d="M183 1210.5H198M206 1210.5H234.6"/>
<path d="M183 1214.5H198M206 1214.5H234.6"/>
<path d="M183 1219.5H198M206 1219.5H234.6"/>
<path d="M183 1223.5H198M206 1223.5H234.6"/>
<path d="M183 1227.5H198M206 1227.5H234.6"/>
<path d="M183 1231.5H198M206 1231.5H234.6"/>
<path d="M183 1235.5H198M206 1235.5H234.6"/>
<path d="M183 1239.5H198M206 1239.5H234.6"/>
<path d="M183 1243.5H198M206 1243.5H234.6"/>
<path d="M183 1247.5H198M206 1247.5H234.6"/>
<path d="M183 1251.5H198M206 1251.5H234.6"/>
<path d="M183 1255.5H198M206 1255.5H234.6"/>
<path d="M183 1259.5H198M206 1259.5H234.6"/>
<path d="M183 1263.5H198M206 1263.5H234.6"/>
<path d="M183 1267.5H198M206 1267.5H234.6"/>
<path d="M183 1271.5H198M206 1271.5H234.6"/>
<path d="M183 1275.5H198M206 1275.5H234.6"/>
<path d="M183 1279.5H198M206 1279.5H234.6"/>
<path d="M183 1283.5H198M206 1283.5H234.6"/>
<path d="M183 1287.5H198M206 1287.5H234.6"/>
<path d="M183 1291.5H198M206 1291.5H234.6"/>
</g>
<path d="M242.3 1151.5L283 1151.5" stroke-width="1.25"/>
<path d="M242.3 1274.5L283 1274.5" stroke-width="1.25"/>
<path d="M265.5 1151.2L265.5 1274.2" stroke-width="1.25"/>
<path d="M283.5 1151.2L283.5 1274.2" stroke-width="1.25"/>
<path d="M283 1151.5L286.4 1154.6V1271.2L283 1274.5" stroke-width="1.25" fill="none"/>
<path d="M265.4 1154.5L283 1154.5" stroke-width="0.8"/>
<path d="M265.4 1271.5L283 1271.5" stroke-width="0.8"/>
<path d="M106 1214.5L319.5 1214.5" stroke-width="1" stroke-dasharray="14 3 2 3"/>
<path d="M327.5 1214.5L343.5 1214.5" stroke-width="1" stroke-dasharray="5 2"/>
<path d="M383.5 1214.5L388.5 1214.5" stroke-width="1.25"/>
<path d="M286.4 1206.5L383.5 1206.5" stroke-width="1.25"/>
<path d="M286.4 1223.5L383.5 1223.5" stroke-width="1.25"/>
<rect x="319.5" y="1206.5" width="8" height="18" stroke-width="1"/>
<path d="M319.7 1208.82L322.22 1206.3M319.7 1213.02L326.42 1206.3M319.7 1217.22L327.5 1209.42M319.7 1221.42L327.5 1213.62M321.52 1223.8L327.5 1217.82M325.72 1223.8L327.5 1222.02" stroke-width="0.9"/>
<rect x="343.5" y="1206.5" width="40" height="18" stroke-width="1"/>
<path d="M343.5 1208.82L346.02 1206.3M343.5 1213.02L350.22 1206.3M343.5 1217.22L354.42 1206.3M343.5 1221.42L358.62 1206.3M345.32 1223.8L362.82 1206.3M349.52 1223.8L367.02 1206.3M353.72 1223.8L371.22 1206.3M357.92 1223.8L375.42 1206.3M362.12 1223.8L379.62 1206.3M366.32 1223.8L383.5 1206.62M370.52 1223.8L383.5 1210.82M374.72 1223.8L383.5 1215.02M378.92 1223.8L383.5 1219.22M383.12 1223.8L383.5 1223.42" stroke-width="0.9"/>
<path d="M319.7 1214.5L327.5 1214.5" stroke-width="0.8" stroke-dasharray="3 2"/>
<path d="M343.5 1214.5L383.5 1214.5" stroke-width="0.8" stroke-dasharray="4 2"/>
<path d="M335.5 1202.8L335.5 1226.3" stroke-width="1.25"/>
<path d="M153.5 1168.5L166.6 1168.5" stroke-width="1.25"/>
<path d="M153.5 1254.5L166.6 1254.5" stroke-width="1.25"/>
<path d="M153.5 1168.3L153.5 1254.3" stroke-width="1.25" stroke-dasharray="7.3 2.4 1.6 1.9 1.6 1.4" stroke-dashoffset="1.9"/>
<path d="M166.5 1168.3L166.5 1254.3" stroke-width="1.25" stroke-dasharray="7.3 2.4 1.6 1.9 1.6 1.4" stroke-dashoffset="1.9"/>
<path d="M139.7 1225.5 H123.5 V1231.3 L130.8 1235.5 H139.7 M123.5 1225.5 L130.8 1229.5 H139.7 M130.8 1229.5 V1235.5" stroke-width="1.25" fill="none"/>
<path d="M139.7 1254.5 H123.5 V1260.2 L130.8 1264.5 H139.7 M123.5 1254.5 L130.8 1257.5 H139.7 M130.8 1257.5 V1264.5" stroke-width="1.25" fill="none"/>
<circle cx="171.1" cy="1267" r="6.9" stroke-width="1.25"/>
<path d="M164.9 1269.8Q171.1 1276.2 177.3 1269.8" stroke-width="0.9" fill="none"/>
<path d="M85.5 1129.5L179.5 1129.5" stroke-width="1"/>
<path d="M85.5 1294.5L179.5 1294.5" stroke-width="1"/>
<path d="M92.5 1129.5L92.5 1294.5" stroke-width="1"/>
<polygon points="93,1129.5 93,1132.12 94,1132.12 94,1137.96 95,1137.96 95,1143 90,1143 90,1137.96 91,1137.96 91,1132.12 92,1132.12 92,1129.5" fill="#000" stroke="none"/>
<polygon points="92,1294.5 92,1291.88 91,1291.88 91,1286.04 90,1286.04 90,1281 95,1281 95,1286.04 94,1286.04 94,1291.88 93,1291.88 93,1294.5" fill="#000" stroke="none"/>
<text class="d" x="89.3" y="1220.7" font-size="16" font-weight="bold" text-anchor="middle" textLength="30" lengthAdjust="spacingAndGlyphs" transform="rotate(-90 89.3 1220.7)">Φ55</text>
<path d="M286.4 1151.5L446.5 1151.5" stroke-width="1"/>
<path d="M286.4 1274.5L446.5 1274.5" stroke-width="1"/>
<path d="M438.5 1151.2L438.5 1274.2" stroke-width="1"/>
<polygon points="439,1151.2 439,1153.82 440,1153.82 440,1159.66 441,1159.66 441,1164.7 436,1164.7 436,1159.66 437,1159.66 437,1153.82 438,1153.82 438,1151.2" fill="#000" stroke="none"/>
<polygon points="438,1274.2 438,1271.58 437,1271.58 437,1265.74 436,1265.74 436,1260.7 441,1260.7 441,1265.74 440,1265.74 440,1271.58 439,1271.58 439,1274.2" fill="#000" stroke="none"/>
<text class="d" x="435.3" y="1214" font-size="16" font-weight="bold" text-anchor="middle" textLength="53.5" lengthAdjust="spacingAndGlyphs" transform="rotate(-90 435.3 1214)">M45 × 1</text>
<path d="M386 1206.5L413.2 1206.5" stroke-width="1"/>
<path d="M386 1223.5L413.2 1223.5" stroke-width="1"/>
<path d="M406.5 1180.3L406.5 1250" stroke-width="1"/>
<polygon points="406,1206.3 406,1203.87 405.12,1203.87 405.12,1198.46 404.2,1198.46 404.2,1193.8 408.8,1193.8 408.8,1198.46 407.88,1198.46 407.88,1203.87 407,1203.87 407,1206.3" fill="#000" stroke="none"/>
<polygon points="407,1223.8 407,1226.23 407.88,1226.23 407.88,1231.64 408.8,1231.64 408.8,1236.3 404.2,1236.3 404.2,1231.64 405.12,1231.64 405.12,1226.23 406,1226.23 406,1223.8" fill="#000" stroke="none"/>
<text class="d" x="404.3" y="1215.6" font-size="16" font-weight="bold" text-anchor="middle" textLength="9" lengthAdjust="spacingAndGlyphs" transform="rotate(-90 404.3 1215.6)">6</text>
<path d="M302.2 1247.5L397.2 1247.5" stroke-width="1"/>
<path d="M327.5 1224L327.5 1254" stroke-width="1"/>
<path d="M343.5 1224L343.5 1254" stroke-width="1"/>
<polygon points="327.5,1248 325.07,1248 325.07,1248.88 319.66,1248.88 319.66,1249.8 315,1249.8 315,1245.2 319.66,1245.2 319.66,1246.12 325.07,1246.12 325.07,1247 327.5,1247" fill="#000" stroke="none"/>
<polygon points="343.5,1247 345.93,1247 345.93,1246.12 351.34,1246.12 351.34,1245.2 356,1245.2 356,1249.8 351.34,1249.8 351.34,1248.88 345.93,1248.88 345.93,1248 343.5,1248" fill="#000" stroke="none"/>
<text class="d" x="380.5" y="1245.8" font-size="16" font-weight="bold" text-anchor="middle" textLength="21" lengthAdjust="spacingAndGlyphs">Φ8</text>
<path d="M112.5 1273.5L112.5 1356" stroke-width="1"/>
<path d="M286.5 1274.5L286.5 1329" stroke-width="1"/>
<path d="M383.5 1224L383.5 1355.5" stroke-width="1"/>
<path d="M112.5 1321.5L286.4 1321.5" stroke-width="1"/>
<polygon points="112.5,1321 115.1,1321 115.1,1320 120.9,1320 120.9,1319 125.9,1319 125.9,1324 120.9,1324 120.9,1323 115.1,1323 115.1,1322 112.5,1322" fill="#000" stroke="none"/>
<polygon points="286.4,1322 283.8,1322 283.8,1323 278,1323 278,1324 273,1324 273,1319 278,1319 278,1320 283.8,1320 283.8,1321 286.4,1321" fill="#000" stroke="none"/>
<text class="d" x="197.5" y="1318.4" font-size="16" font-weight="bold" text-anchor="middle" textLength="33.4" lengthAdjust="spacingAndGlyphs">36.5</text>
<path d="M112.5 1348.5L383.5 1348.5" stroke-width="1"/>
<polygon points="112.5,1348 115.1,1348 115.1,1347 120.9,1347 120.9,1346 125.9,1346 125.9,1351 120.9,1351 120.9,1350 115.1,1350 115.1,1349 112.5,1349" fill="#000" stroke="none"/>
<polygon points="383.5,1349 380.9,1349 380.9,1350 375.1,1350 375.1,1351 370.1,1351 370.1,1346 375.1,1346 375.1,1347 380.9,1347 380.9,1348 383.5,1348" fill="#000" stroke="none"/>
<text class="d" x="242.2" y="1345" font-size="16" font-weight="bold" text-anchor="middle" textLength="32.2" lengthAdjust="spacingAndGlyphs">70.1</text>
</g>
<g id="d4">
<path d="M692.3 1129.5H617.5V1290.5H692.3" stroke-width="1.25" fill="none"/>
<path d="M703.3 1125.5H692.3V1294.5H703.3" stroke-width="1.25" fill="none"/>
<path d="M703.3 1118.5H725.5V1300.5H703.3Z" stroke-width="1.25" fill="none"/>
<path d="M716.5 1118.5L716.5 1300.5" stroke-width="1.25"/>
<path d="M725.5 1132.5L774.8 1132.5" stroke-width="1.25"/>
<path d="M725.5 1286.5L774.8 1286.5" stroke-width="1.25"/>
<path d="M753.5 1132.4L753.5 1286.5" stroke-width="1.25"/>
<path d="M774.5 1132.4L774.5 1286.5" stroke-width="1.25"/>
<path d="M774.8 1132.5L777.6 1136.3V1282.6L774.8 1286.5" stroke-width="1.25" fill="none"/>
<path d="M753.7 1136.5L774.8 1136.5" stroke-width="0.8"/>
<path d="M753.7 1282.5L774.8 1282.5" stroke-width="0.8"/>
<path d="M610.5 1209.5L810.8 1209.5" stroke-width="1" stroke-dasharray="14 3 2 3"/>
<path d="M818.3 1209.5L833.5 1209.5" stroke-width="1" stroke-dasharray="5 2"/>
<path d="M777.6 1200.5L874.7 1200.5" stroke-width="1.25"/>
<path d="M777.6 1218.5L874.7 1218.5" stroke-width="1.25"/>
<rect x="810.5" y="1200.5" width="8" height="18" stroke-width="1"/>
<path d="M810.8 1202.62L813.32 1200.1M810.8 1206.82L817.52 1200.1M810.8 1211.02L818.3 1203.52M810.8 1215.22L818.3 1207.72M811.72 1218.5L818.3 1211.92M815.92 1218.5L818.3 1216.12" stroke-width="0.9"/>
<rect x="833.5" y="1200.5" width="41" height="18" stroke-width="1"/>
<path d="M833.5 1202.62L836.02 1200.1M833.5 1206.82L840.22 1200.1M833.5 1211.02L844.42 1200.1M833.5 1215.22L848.62 1200.1M834.42 1218.5L852.82 1200.1M838.62 1218.5L857.02 1200.1M842.82 1218.5L861.22 1200.1M847.02 1218.5L865.42 1200.1M851.22 1218.5L869.62 1200.1M855.42 1218.5L873.82 1200.1M859.62 1218.5L874.7 1203.42M863.82 1218.5L874.7 1207.62M868.02 1218.5L874.7 1211.82M872.22 1218.5L874.7 1216.02" stroke-width="0.9"/>
<path d="M810.8 1209.5L818.3 1209.5" stroke-width="0.8" stroke-dasharray="3 2"/>
<path d="M833.5 1209.5L874.7 1209.5" stroke-width="0.8" stroke-dasharray="4 2"/>
<path d="M826.5 1196.6L826.5 1221" stroke-width="1.25"/>
<circle cx="634.6" cy="1156.4" r="7" stroke-width="1.25"/>
<path d="M628.3 1159.2Q634.6 1165.7 640.9 1159.2" stroke-width="0.9" fill="none"/>
<path d="M667.4 1138.5L678.7 1138.5" stroke-width="1.25"/>
<path d="M667.4 1278.5L678.7 1278.5" stroke-width="1.25"/>
<path d="M667.5 1138.7L667.5 1278" stroke-width="1.25" stroke-dasharray="14.3 5.8 1.5 5.2 1.5 4" stroke-dashoffset="1.9"/>
<path d="M678.5 1138.7L678.5 1278" stroke-width="1.25" stroke-dasharray="14.3 5.8 1.5 5.2 1.5 4" stroke-dashoffset="1.9"/>
<path d="M623.6 1290.5V1294.8Q623.6 1297.7 626.6 1297.7Q629.6 1297.7 629.6 1294.8V1290.5" stroke-width="1.25" fill="none"/>
<path d="M623.6 1294.5L629.6 1294.5" stroke-width="0.8"/>
<path d="M765.5 1089.5H738.6L721.9 1122.3" stroke-width="1" fill="none"/>
<polygon points="721.7,1122.6 725.2,1110.91 729.12,1112.91" fill="#000" stroke="none"/>
<text x="766" y="1096.6" font-size="16" font-weight="bold" textLength="33.5" lengthAdjust="spacingAndGlyphs">胶垫</text>
<path d="M592.2 1129.5L614 1129.5" stroke-width="1"/>
<path d="M592.2 1290.5L614 1290.5" stroke-width="1"/>
<path d="M598.5 1129.5L598.5 1290.5" stroke-width="1"/>
<polygon points="599,1129.5 599,1132.12 600,1132.12 600,1137.96 601,1137.96 601,1143 596,1143 596,1137.96 597,1137.96 597,1132.12 598,1132.12 598,1129.5" fill="#000" stroke="none"/>
<polygon points="598,1290.5 598,1287.88 597,1287.88 597,1282.04 596,1282.04 596,1277 601,1277 601,1282.04 600,1282.04 600,1287.88 599,1287.88 599,1290.5" fill="#000" stroke="none"/>
<text class="d" x="595.4" y="1202.5" font-size="16" font-weight="bold" text-anchor="middle" textLength="45" lengthAdjust="spacingAndGlyphs" transform="rotate(-90 595.4 1202.5)">Φ46.7</text>
<path d="M777.6 1132.5L938.4 1132.5" stroke-width="1"/>
<path d="M777.6 1286.5L938.4 1286.5" stroke-width="1"/>
<path d="M931.5 1132.4L931.5 1286.5" stroke-width="1"/>
<polygon points="932,1132.4 932,1135.02 933,1135.02 933,1140.86 934,1140.86 934,1145.9 929,1145.9 929,1140.86 930,1140.86 930,1135.02 931,1135.02 931,1132.4" fill="#000" stroke="none"/>
<polygon points="931,1286.5 931,1283.88 930,1283.88 930,1278.04 929,1278.04 929,1273 934,1273 934,1278.04 933,1278.04 933,1283.88 932,1283.88 932,1286.5" fill="#000" stroke="none"/>
<text class="d" x="927.8" y="1214.4" font-size="16" font-weight="bold" text-anchor="middle" textLength="53.5" lengthAdjust="spacingAndGlyphs" transform="rotate(-90 927.8 1214.4)">M45 × 1</text>
<path d="M877 1200.5L905 1200.5" stroke-width="1"/>
<path d="M877 1218.5L905 1218.5" stroke-width="1"/>
<path d="M898.5 1175L898.5 1243.5" stroke-width="1"/>
<polygon points="898,1200.1 898,1197.67 897.12,1197.67 897.12,1192.26 896.2,1192.26 896.2,1187.6 900.8,1187.6 900.8,1192.26 899.88,1192.26 899.88,1197.67 899,1197.67 899,1200.1" fill="#000" stroke="none"/>
<polygon points="899,1218.5 899,1220.93 899.88,1220.93 899.88,1226.34 900.8,1226.34 900.8,1231 896.2,1231 896.2,1226.34 897.12,1226.34 897.12,1220.93 898,1220.93 898,1218.5" fill="#000" stroke="none"/>
<text class="d" x="895.3" y="1210" font-size="16" font-weight="bold" text-anchor="middle" textLength="9" lengthAdjust="spacingAndGlyphs" transform="rotate(-90 895.3 1210)">6</text>
<path d="M793.4 1242.5L887.6 1242.5" stroke-width="1"/>
<path d="M818.5 1218.5L818.5 1248.5" stroke-width="1"/>
<path d="M833.5 1218.5L833.5 1248.5" stroke-width="1"/>
<polygon points="818.3,1243 815.87,1243 815.87,1243.88 810.46,1243.88 810.46,1244.8 805.8,1244.8 805.8,1240.2 810.46,1240.2 810.46,1241.12 815.87,1241.12 815.87,1242 818.3,1242" fill="#000" stroke="none"/>
<polygon points="833.5,1242 835.93,1242 835.93,1241.12 841.34,1241.12 841.34,1240.2 846,1240.2 846,1244.8 841.34,1244.8 841.34,1243.88 835.93,1243.88 835.93,1243 833.5,1243" fill="#000" stroke="none"/>
<text class="d" x="872" y="1239.4" font-size="16" font-weight="bold" text-anchor="middle" textLength="21.4" lengthAdjust="spacingAndGlyphs">Φ8</text>
<path d="M617.5 1293L617.5 1395" stroke-width="1"/>
<path d="M703.5 1303L703.5 1340" stroke-width="1"/>
<path d="M716.5 1303L716.5 1340" stroke-width="1"/>
<path d="M777.5 1286.5L777.5 1366" stroke-width="1"/>
<path d="M874.5 1218.5L874.5 1395" stroke-width="1"/>
<path d="M617.5 1332.5L742.7 1332.5" stroke-width="1"/>
<polygon points="617.5,1332 620.1,1332 620.1,1331 625.9,1331 625.9,1330 630.9,1330 630.9,1335 625.9,1335 625.9,1334 620.1,1334 620.1,1333 617.5,1333" fill="#000" stroke="none"/>
<polygon points="703.3,1333 700.7,1333 700.7,1334 694.9,1334 694.9,1335 689.9,1335 689.9,1330 694.9,1330 694.9,1331 700.7,1331 700.7,1332 703.3,1332" fill="#000" stroke="none"/>
<polygon points="716.4,1332 719,1332 719,1331 724.8,1331 724.8,1330 729.8,1330 729.8,1335 724.8,1335 724.8,1334 719,1334 719,1333 716.4,1333" fill="#000" stroke="none"/>
<text class="d" x="660" y="1330.3" font-size="16" font-weight="bold" text-anchor="middle" textLength="16" lengthAdjust="spacingAndGlyphs">20</text>
<text class="d" x="710" y="1330.3" font-size="16" font-weight="bold" text-anchor="middle" textLength="8" lengthAdjust="spacingAndGlyphs">3</text>
<path d="M617.5 1359.5L777.6 1359.5" stroke-width="1"/>
<polygon points="617.5,1359 620.1,1359 620.1,1358 625.9,1358 625.9,1357 630.9,1357 630.9,1362 625.9,1362 625.9,1361 620.1,1361 620.1,1360 617.5,1360" fill="#000" stroke="none"/>
<polygon points="777.6,1360 775,1360 775,1361 769.2,1361 769.2,1362 764.2,1362 764.2,1357 769.2,1357 769.2,1358 775,1358 775,1359 777.6,1359" fill="#000" stroke="none"/>
<text class="d" x="700" y="1356.2" font-size="16" font-weight="bold" text-anchor="middle" textLength="33" lengthAdjust="spacingAndGlyphs">36.5</text>
<path d="M617.5 1386.5L874.7 1386.5" stroke-width="1"/>
<polygon points="617.5,1386 620.1,1386 620.1,1385 625.9,1385 625.9,1384 630.9,1384 630.9,1389 625.9,1389 625.9,1388 620.1,1388 620.1,1387 617.5,1387" fill="#000" stroke="none"/>
<polygon points="874.7,1387 872.1,1387 872.1,1388 866.3,1388 866.3,1389 861.3,1389 861.3,1384 866.3,1384 866.3,1385 872.1,1385 872.1,1386 874.7,1386" fill="#000" stroke="none"/>
<text class="d" x="746.7" y="1383.4" font-size="16" font-weight="bold" text-anchor="middle" textLength="32" lengthAdjust="spacingAndGlyphs">70.1</text>
</g>
</svg>
</body></html>
